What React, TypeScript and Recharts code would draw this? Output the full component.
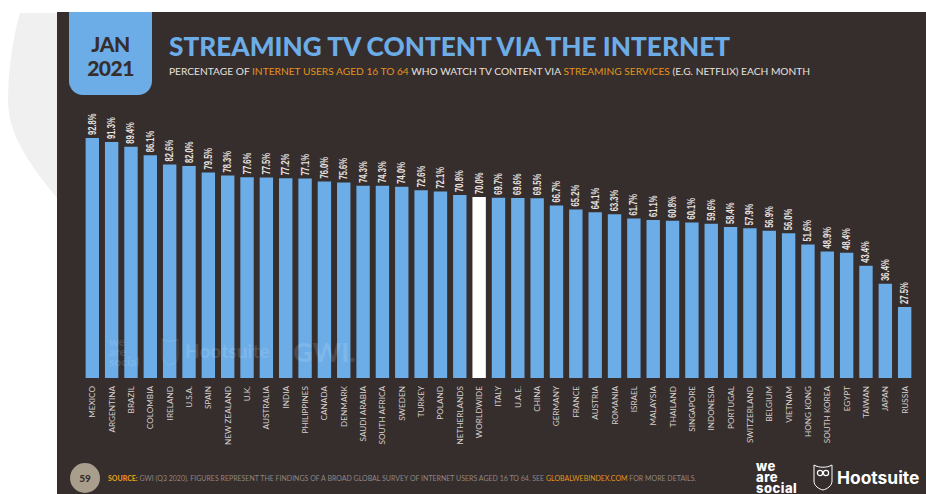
import { BarChart, Bar, Cell, XAxis, YAxis, LabelList } from 'recharts';

const countries = [
  'MEXICO', 'ARGENTINA', 'BRAZIL', 'COLOMBIA', 'IRELAND', 'U.S.A.', 'SPAIN', 'NEW ZEALAND', 'U.K.', 'AUSTRALIA',
  'INDIA', 'PHILIPPINES', 'CANADA', 'DENMARK', 'SAUDI ARABIA', 'SOUTH AFRICA', 'SWEDEN', 'TURKEY', 'POLAND', 'NETHERLANDS',
  'WORLDWIDE', 'ITALY', 'U.A.E.', 'CHINA', 'GERMANY', 'FRANCE', 'AUSTRIA', 'ROMANIA', 'ISRAEL', 'MALAYSIA',
  'THAILAND', 'SINGAPORE', 'INDONESIA', 'PORTUGAL', 'SWITZERLAND', 'BELGIUM', 'VIETNAM', 'HONG KONG', 'SOUTH KOREA', 'EGYPT',
  'TAIWAN', 'JAPAN', 'RUSSIA',
];

const shares = [
  92.8, 91.3, 89.4, 86.1, 82.6, 82.0, 79.5, 78.3, 77.6, 77.5,
  77.2, 77.1, 76.0, 75.6, 74.3, 74.3, 74.0, 72.6, 72.1, 70.8,
  70.0, 69.7, 69.6, 69.5, 66.7, 65.2, 64.1, 63.3, 61.7, 61.1,
  60.8, 60.1, 59.6, 58.4, 57.9, 56.9, 56.0, 51.6, 48.9, 48.4,
  43.4, 36.4, 27.5,
];

const rows = countries.map((country, i) => ({ country, share: shares[i] }));

const BLUE = '#6cade8';
const PANEL = '#362d2d';
const ORANGE = '#e0951c';
const FUTURA = 'Lato, "Open Sans", sans-serif';
const WATERMARK = 'rgba(255,255,255,0.12)';

function CountryTick({ x, y, payload }: any) {
  return (
    <text
      transform={`translate(${x + 3},${y + 2}) rotate(-90)`}
      textAnchor="end"
      fontFamily={FUTURA}
      fontSize={8.2}
      fill="#d6d1cd"
    >
      {payload.value}
    </text>
  );
}

// value labels are a tall condensed face, so squeeze along the reading direction
function ShareLabel({ x, y, width, value }: any) {
  return (
    <text
      transform={`translate(${x + width / 2 + 3.5},${y - 3}) rotate(-90) scale(0.76,1)`}
      fontFamily='"Liberation Sans", sans-serif'
      fontWeight={700}
      fontSize={10}
      fill="#e8e4e0"
    >
      {Number(value).toFixed(1)}%
    </text>
  );
}

function Abs({ style, children }: any) {
  return <div style={{ position: 'absolute', whiteSpace: 'nowrap', ...style }}>{children}</div>;
}

export default function App() {
  return (
    <div style={{ position: 'absolute', left: 0, top: 0, width: 926, height: 494, overflow: 'hidden', background: '#fff', fontFamily: FUTURA }}>
      {/* pale backdrop shape behind the slide */}
      <svg width={60} height={210} style={{ position: 'absolute', left: 0, top: 0 }}>
        <path d="M20 13 C12 40 8 75 8 100 C8 135 30 165 57 198 L57 13 Z" fill="#f0f0f0" />
      </svg>
      <div style={{ position: 'absolute', left: 57, top: 12, width: 869, height: 482, background: PANEL }} />

      <div style={{ position: 'absolute', left: 69, top: 12, width: 83, height: 83, background: BLUE, borderRadius: '0 0 14px 14px' }} />
      <Abs style={{ left: 69, width: 83, top: 32, textAlign: 'center', color: PANEL, fontWeight: 900, fontSize: 21, lineHeight: '24px', letterSpacing: -0.5 }}>
        JAN
        <br />
        2021
      </Abs>

      <Abs style={{ left: 169, top: 29, color: BLUE, fontWeight: 900, fontSize: 26.2, lineHeight: '34px' }}>
        STREAMING TV CONTENT VIA THE INTERNET
      </Abs>
      <Abs style={{ left: 169, top: 64, color: '#e6e2df', fontSize: 10.2, lineHeight: '14px' }}>
        PERCENTAGE OF <span style={{ color: ORANGE }}>INTERNET USERS AGED 16 TO 64</span> WHO WATCH TV CONTENT VIA{' '}
        <span style={{ color: ORANGE }}>STREAMING SERVICES</span> (E.G. NETFLIX) EACH MONTH
      </Abs>

      <div style={{ position: 'absolute', left: 0, top: 0 }}>
        <BarChart
          width={926}
          height={494}
          data={rows}
          margin={{ top: 119.4, right: 11.7, bottom: 0, left: 82.6 }}
          barSize={13.4}
        >
          <XAxis
            dataKey="country"
            interval={0}
            axisLine={false}
            tickLine={false}
            tickMargin={0}
            tick={<CountryTick />}
            height={116}
          />
          <YAxis hide domain={[0, 100]} />
          <Bar dataKey="share" isAnimationActive={false}>
            {rows.map((row) => (
              <Cell key={row.country} fill={row.country === 'WORLDWIDE' ? '#ffffff' : BLUE} />
            ))}
            <LabelList dataKey="share" content={<ShareLabel />} />
          </Bar>
        </BarChart>
      </div>

      {/* faint watermark across the lower bars */}
      <Abs style={{ left: 109, top: 337, color: WATERMARK, fontWeight: 900, fontSize: 12, lineHeight: '10px' }}>
        we
        <br />
        are
        <br />
        social
      </Abs>
      <svg width={18} height={28} style={{ position: 'absolute', left: 161, top: 338 }}>
        <path d="M1 1 C6 4 12 4 17 1 L17 18 C17 23 13 26 9 27 C5 26 1 23 1 18 Z" fill="none" stroke={WATERMARK} strokeWidth={1} />
      </svg>
      <Abs style={{ left: 185, top: 340, color: WATERMARK, fontWeight: 900, fontSize: 19, lineHeight: '22px' }}>Hootsuite</Abs>
      <Abs style={{ left: 293, top: 336, color: WATERMARK, fontWeight: 900, fontSize: 27, lineHeight: '32px' }}>GWI.</Abs>

      <div style={{ position: 'absolute', left: 70, top: 463, width: 30, height: 30, borderRadius: 15, background: '#a99d8c' }} />
      <Abs style={{ left: 70, width: 30, top: 471, textAlign: 'center', color: PANEL, fontWeight: 900, fontSize: 10, lineHeight: '14px' }}>59</Abs>
      <Abs style={{ left: 108, top: 472, color: '#8f8780', fontSize: 7, lineHeight: '12px' }}>
        <span style={{ color: ORANGE, fontWeight: 900 }}>SOURCE:</span> GWI (Q3 2020). FIGURES REPRESENT THE FINDINGS OF A BROAD GLOBAL SURVEY OF INTERNET USERS AGED 16 TO 64. SEE{' '}
        <span style={{ color: ORANGE }}>GLOBALWEBINDEX.COM</span> FOR MORE DETAILS.
      </Abs>

      <Abs style={{ left: 756, top: 461, color: '#fff', fontFamily: 'Inter, sans-serif', fontWeight: 800, fontSize: 13, lineHeight: '11px', letterSpacing: 0.5 }}>
        we
        <br />
        are
        <br />
        social
      </Abs>
      <svg width={20} height={27} style={{ position: 'absolute', left: 813, top: 464 }}>
        <path d="M1 1 C6 4 14 4 19 1 L19 17 C19 22 14 25 10 26 C6 25 1 22 1 17 Z" fill="none" stroke="#fff" strokeWidth={1} />
        <circle cx={7} cy={9} r={2.6} fill="none" stroke="#fff" strokeWidth={1.2} />
        <circle cx={13} cy={9} r={2.6} fill="none" stroke="#fff" strokeWidth={1.2} />
      </svg>
      <Abs style={{ left: 837, top: 465, color: '#fff', fontFamily: 'Inter, sans-serif', fontWeight: 700, fontSize: 17.4, lineHeight: '26px' }}>Hootsuite</Abs>
    </div>
  );
}
